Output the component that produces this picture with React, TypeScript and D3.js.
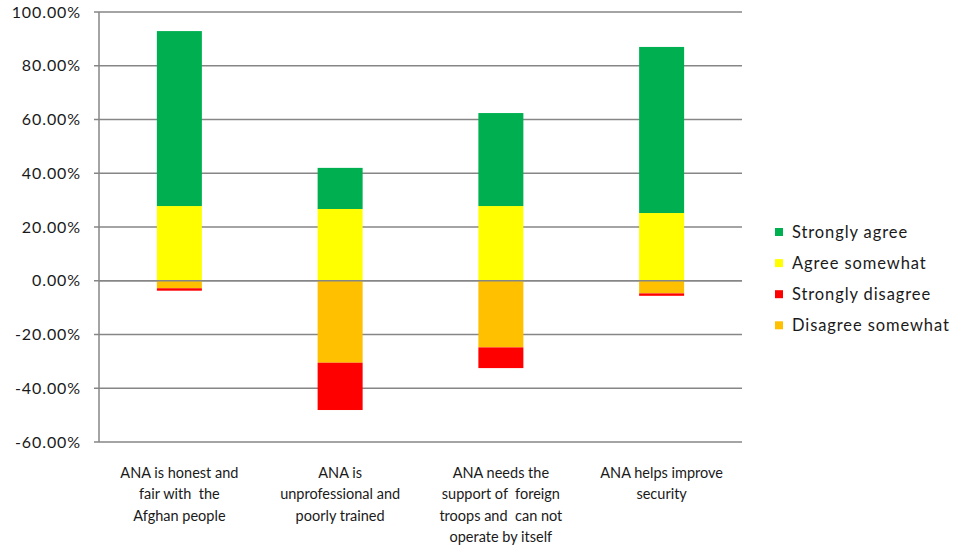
import React from "react";
import * as d3 from "d3";

const categories: string[][] = [
  ["ANA is honest and", "fair with  the", "Afghan people"],
  ["ANA is", "unprofessional and", "poorly trained"],
  ["ANA needs the", "support of  foreign", "troops and  can not", "operate by itself"],
  ["ANA helps improve", "security"],
];
const stronglyAgree = [65.1, 15.3, 34.6, 61.8];
const agreeSomewhat = [27.8, 26.7, 27.8, 25.2];
const disagreeSomewhat = [2.8, 30.5, 24.8, 4.7];
const stronglyDisagree = [0.9, 17.6, 7.7, 0.9];
const yTicks = [100, 80, 60, 40, 20, 0, -20, -40, -60];
const legendLabels = ["Strongly agree", "Agree somewhat", "Strongly disagree", "Disagree somewhat"];
const colors = { sa: "#00B050", as: "#FFFF00", sd: "#FF0000", ds: "#FFC000" };

export default function App() {
  const W = 953, H = 546;
  const left = 99, right = 742, top = 12, bottom = 442;
  const y = d3.scaleLinear().domain([-60, 100]).range([bottom, top]);
  const x = d3.scaleBand<number>().domain(d3.range(categories.length)).range([left, right]).paddingInner(0.72).paddingOuter(0.36);
  const font = "Lato, 'Open Sans', sans-serif";
  const textColor = "#1a1a1a";
  const grid = "#868686";

  const bars: { x: number; y0: number; y1: number; c: string }[] = [];
  categories.forEach((_, i) => {
    const a = agreeSomewhat[i], s = stronglyAgree[i], d = disagreeSomewhat[i], sd = stronglyDisagree[i];
    bars.push({ x: x(i)!, y0: 0, y1: a, c: colors.as });
    bars.push({ x: x(i)!, y0: a, y1: a + s, c: colors.sa });
    bars.push({ x: x(i)!, y0: 0, y1: -d, c: colors.ds });
    bars.push({ x: x(i)!, y0: -d, y1: -d - sd, c: colors.sd });
  });
  const legendColors = [colors.sa, colors.as, colors.sd, colors.ds];
  const cw = (right - left) / categories.length;

  return (
    <svg width={W} height={H} style={{ position: "absolute", left: 0, top: 0, background: "#fff" }} fontFamily={font}>
      {yTicks.map((t) => (
        <g key={t}>
          <line x1={94} x2={right} y1={y(t)} y2={y(t)} stroke={grid} strokeWidth={1.3} />
          <text x={81} y={y(t)} dy="0.35em" textAnchor="end" fontSize={16} letterSpacing={0.9} fill={textColor}>
            {t.toFixed(2)}%
          </text>
        </g>
      ))}
      {bars.map((b, i) => (
        <rect key={i} x={b.x} width={x.bandwidth()} y={y(Math.max(b.y0, b.y1))} height={Math.abs(y(b.y0) - y(b.y1))} fill={b.c} />
      ))}
      <line x1={left} x2={left} y1={top} y2={bottom} stroke={grid} strokeWidth={1.5} />
      <line x1={left} x2={right} y1={y(0)} y2={y(0)} stroke={grid} strokeWidth={1.5} />
      {categories.map((lines, i) => (
        <text key={i} textAnchor="middle" fontSize={14.5} fill={textColor}>
          {lines.map((l, j) => (
            <tspan key={j} x={left + cw * (i + 0.5)} y={478 + j * 21.3} style={{ whiteSpace: "pre" }}>
              {l}
            </tspan>
          ))}
        </text>
      ))}
      {legendLabels.map((l, i) => (
        <g key={l} transform={`translate(775, ${232 + i * 31.1})`}>
          <rect x={0} y={-4} width={8} height={8} fill={legendColors[i]} />
          <text x={17} y={0} dy="0.35em" fontSize={16.5} letterSpacing={0.9} fill={textColor}>
            {l}
          </text>
        </g>
      ))}
    </svg>
  );
}
